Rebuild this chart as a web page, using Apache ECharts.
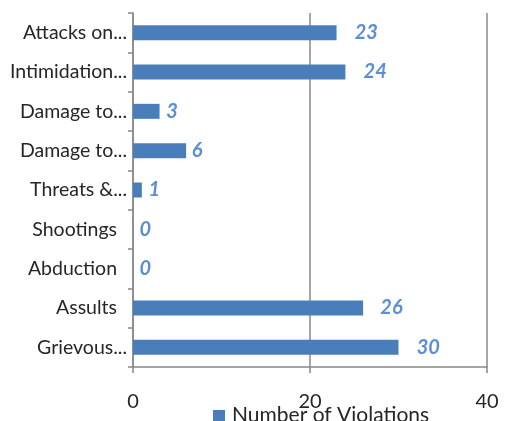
<!DOCTYPE html>
<html>
<head>
<meta charset="utf-8">
<script src="https://cdn.jsdelivr.net/npm/echarts@6/dist/echarts.min.js"></script>
<style>
  html, body { margin: 0; padding: 0; background: #ffffff; }
  #chart { width: 508px; height: 421px; }
</style>
</head>
<body>
<div id="chart"></div>
<script>
// Violation types, listed top to bottom
const categories = [
  'Attacks on...',
  'Intimidation...',
  'Damage to...',
  'Damage to...',
  'Threats &...',
  'Shootings  ',
  'Abduction  ',
  'Assults  ',
  'Grievous...'
];
const violations = [23, 24, 3, 6, 1, 0, 0, 26, 30];
const seriesName = 'Number of Violations';
const xTicks = { min: 0, max: 40, interval: 20 };

const FONT = 'Lato, "Open Sans", sans-serif';
const AXIS_GRAY = '#888888';
const BAR_BLUE = '#4a7ebb';
const LABEL_BLUE = '#5b8fd2';
const TEXT = '#262626';

const chart = echarts.init(document.getElementById('chart'), null, { renderer: 'canvas' });

chart.setOption({
  animation: false,
  backgroundColor: '#ffffff',
  grid: { left: 133, right: 21, top: 13, bottom: 54, containLabel: false },
  legend: {
    data: [seriesName],
    left: 208,
    top: 400,
    icon: 'rect',
    itemWidth: 12,
    itemHeight: 11,
    itemGap: 6,
    textStyle: { fontFamily: FONT, fontSize: 21, color: TEXT, padding: [0, 0, 0, 2] }
  },
  xAxis: {
    type: 'value',
    min: xTicks.min,
    max: xTicks.max,
    interval: xTicks.interval,
    axisLine: { show: true, lineStyle: { color: AXIS_GRAY, width: 1.5 } },
    axisTick: { show: true, length: 6, lineStyle: { color: AXIS_GRAY, width: 1.5 } },
    axisLabel: { fontFamily: FONT, fontSize: 20, color: TEXT, margin: 25 },
    splitLine: { show: true, lineStyle: { color: AXIS_GRAY, width: 1.5 } }
  },
  yAxis: {
    type: 'category',
    data: categories,
    inverse: true,
    axisLine: { show: true, lineStyle: { color: AXIS_GRAY, width: 1.5 } },
    axisTick: { show: true, length: 5, lineStyle: { color: AXIS_GRAY, width: 1.5 } },
    axisLabel: { fontFamily: FONT, fontSize: 19.5, color: TEXT, margin: 6 },
    splitLine: { show: false }
  },
  series: [{
    name: seriesName,
    type: 'bar',
    data: violations,
    barWidth: 15,
    itemStyle: { color: BAR_BLUE },
    label: {
      show: true,
      position: 'right',
      distance: 5,
      fontFamily: FONT,
      fontSize: 20,
      fontWeight: 'bold',
      fontStyle: 'italic',
      color: LABEL_BLUE
    },
    // wider numbers sit a little further from the bar end
    labelLayout: function (params) {
      return { dx: Math.max(0, params.labelRect.width - 10) };
    }
  }]
});
</script>
</body>
</html>
